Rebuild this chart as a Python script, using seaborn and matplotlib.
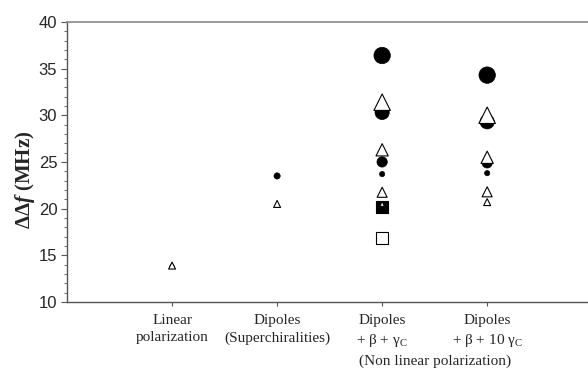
import numpy as np
import pandas as pd
import matplotlib
matplotlib.use("Agg")
import matplotlib.pyplot as plt
import seaborn as sns
from matplotlib.ticker import MultipleLocator

categories = ["Linear\npolarization",
              "Dipoles\n(Superchiralities)",
              "Dipoles\n+ \u03b2 + \u03b3$_{\\mathrm{C}}$",
              "Dipoles\n+ \u03b2 + 10 \u03b3$_{\\mathrm{C}}$"]

# filled circles
circle_cat = [1, 2, 3, 3, 3, 3, 4, 4, 4, 4]
circle_val = [13.8, 23.5, 36.4, 30.3, 25.0, 23.7, 34.3, 29.3, 24.9, 23.8]
circle_size = ["xxs", "s", "xl", "l", "m", "xs", "xl", "l", "m", "xs"]

# squares (filled, open)
square_cat = [3, 3]
square_val = [20.2, 16.9]
square_fill = ["black", "white"]

# open triangles
tri_cat = [1, 2, 3, 3, 3, 3, 4, 4, 4, 4]
tri_val = [13.9, 20.5, 31.4, 26.3, 21.75, 20.5, 30.0, 25.5, 21.8, 20.7]
tri_size = ["xs", "xs", "xl", "m", "s", "xxs", "xl", "m", "s", "xs"]

circle_area = {"xxs": 9, "xs": 14, "s": 20, "m": 55, "l": 105, "xl": 140}
tri_area = {"xxs": 12, "xs": 25, "s": 52, "m": 78, "xl": 140}

sns.set_style("white")
plt.rcParams["font.family"] = ["Liberation Sans", "DejaVu Sans"]
plt.rcParams["mathtext.fontset"] = "custom"
plt.rcParams["mathtext.rm"] = "Liberation Serif"
plt.rcParams["mathtext.it"] = "Liberation Serif:italic:bold"
plt.rcParams["mathtext.bf"] = "Liberation Serif:bold"

fig = plt.figure(figsize=(5.88, 3.71), dpi=100)
ax = fig.add_axes([0.114, 0.186, 0.886, 0.755])

circles = pd.DataFrame({"cat": circle_cat, "val": circle_val,
                        "area": [circle_area[s] for s in circle_size]})
squares = pd.DataFrame({"cat": square_cat, "val": square_val, "fill": square_fill})
tris = pd.DataFrame({"cat": tri_cat, "val": tri_val,
                     "area": [tri_area[s] for s in tri_size]})

sns.scatterplot(data=circles, x="cat", y="val", s=circles["area"], marker="o",
                color="black", edgecolor="black", linewidth=0.5, ax=ax, zorder=3)
for _, r in squares.iterrows():
    sns.scatterplot(x=[r["cat"]], y=[r["val"]], s=78, marker="s", color=r["fill"],
                    edgecolor="black", linewidth=0.8, ax=ax, zorder=4)
sns.scatterplot(data=tris, x="cat", y="val", s=tris["area"], marker="^",
                color="white", edgecolor="black", linewidth=0.8, ax=ax, zorder=5)

ax.set_xlim(0, 4.96)
ax.set_ylim(10, 40)
ax.yaxis.set_major_locator(MultipleLocator(5))
ax.yaxis.set_minor_locator(MultipleLocator(1))
ax.set_xticks([1, 2, 3, 4])
ax.set_xticklabels(categories, family="Liberation Serif", fontsize=11, linespacing=1.35)
ax.tick_params(axis="y", which="major", direction="out", length=4, width=0.8,
               color="#555555", labelsize=12, left=True, pad=3)
ax.tick_params(axis="y", which="minor", direction="out", length=2, width=0.6,
               color="#555555", left=True)
ax.tick_params(axis="x", which="major", direction="out", length=3, width=0.8,
               color="#555555", bottom=True, pad=6)

ax.set_xlabel("")
ax.set_ylabel(r"$\mathbf{\Delta\Delta}\mathit{f}$ (MHz)", family="Liberation Serif",
              fontweight="bold", fontsize=15)
ax.yaxis.set_label_coords(-0.058, 0.436)
ax.text(3.5, -0.212, "(Non linear polarization)", transform=ax.get_xaxis_transform(),
        ha="center", va="center", family="Liberation Serif", fontsize=11)

for side in ["left", "bottom"]:
    ax.spines[side].set_color("#555555")
    ax.spines[side].set_linewidth(1.0)
ax.spines["top"].set_color("#888888")
ax.spines["top"].set_linewidth(1.2)
ax.spines["right"].set_visible(False)

fig.savefig("out.png", dpi=100)
